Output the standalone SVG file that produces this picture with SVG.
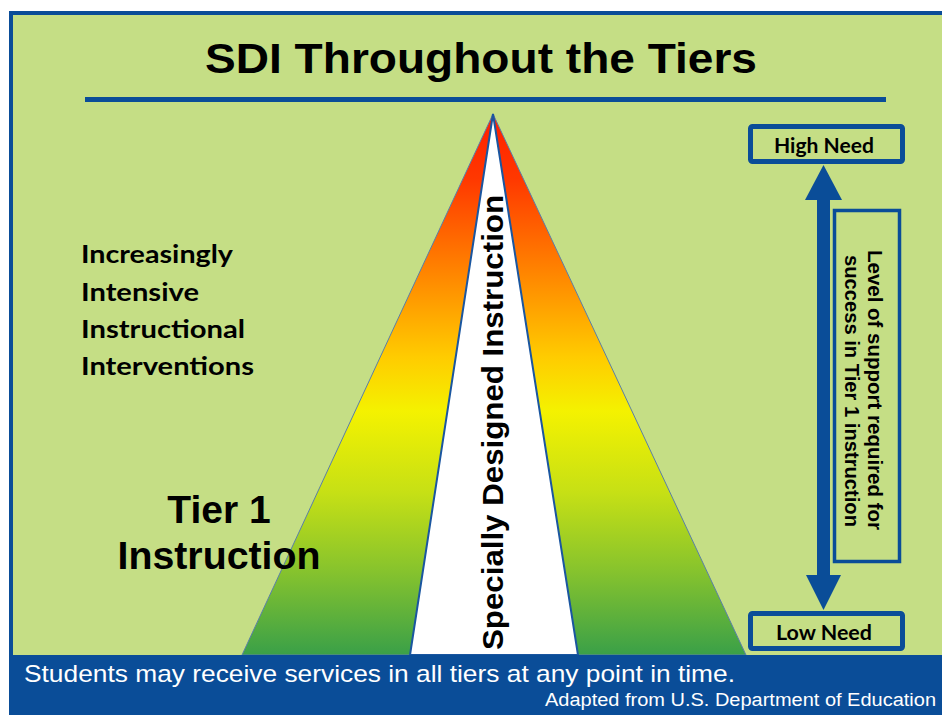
<svg xmlns="http://www.w3.org/2000/svg" width="942" height="715" viewBox="0 0 942 715">
  <defs>
    <linearGradient id="pyr" gradientUnits="userSpaceOnUse" x1="0" y1="114" x2="0" y2="655">
      <stop offset="0" stop-color="#ff1e00"/>
      <stop offset="0.12" stop-color="#ff3800"/>
      <stop offset="0.3" stop-color="#ff8800"/>
      <stop offset="0.45" stop-color="#ffcc00"/>
      <stop offset="0.55" stop-color="#f4f200"/>
      <stop offset="0.7" stop-color="#c6e015"/>
      <stop offset="0.85" stop-color="#84c22e"/>
      <stop offset="1" stop-color="#3aa048"/>
    </linearGradient>
    <style>
      .blue { fill: #0a4d98; }
      .box { fill: none; stroke: #0a4d98; }
      .cal { font-family: Lato, "Open Sans", "Liberation Sans", sans-serif; font-weight: bold; fill: #000; }
      .ari { font-family: "Liberation Sans", Arial, sans-serif; fill: #000; }
      .b { font-weight: bold; }
      .w { fill: #fff; }
    </style>
  </defs>

  <rect x="0" y="0" width="942" height="715" fill="#ffffff"/>
  <g id="panel">
    <rect x="11" y="13" width="940" height="660" fill="#c5de85" stroke="#0a4d98" stroke-width="4"/>
  </g>

  <g id="title">
    <text class="ari b" x="481" y="73" font-size="42" text-anchor="middle" textLength="552" lengthAdjust="spacingAndGlyphs">SDI Throughout the Tiers</text>
    <rect x="85" y="97" width="801" height="5" class="blue"/>
  </g>

  <g id="pyramid">
    <polygon points="493,114 242,655 746,655" fill="url(#pyr)" stroke="#5a7fa8" stroke-width="1"/>
    <polygon points="493,114 410,655 578,655" fill="#ffffff" stroke="#1a56a0" stroke-width="2"/>
    <text class="ari b" transform="translate(503,650) rotate(-90)" x="0" y="0" font-size="30" textLength="455" lengthAdjust="spacingAndGlyphs">Specially Designed Instruction</text>
  </g>

  <g id="interventions-label">
    <text class="cal" x="81" y="263" font-size="25" textLength="152" lengthAdjust="spacingAndGlyphs">Increasingly</text>
    <text class="cal" x="81" y="301" font-size="25" textLength="118" lengthAdjust="spacingAndGlyphs">Intensive</text>
    <text class="cal" x="81" y="338" font-size="25" textLength="164" lengthAdjust="spacingAndGlyphs">Instructional</text>
    <text class="cal" x="81" y="375" font-size="25" textLength="173" lengthAdjust="spacingAndGlyphs">Interventions</text>
  </g>

  <g id="tier1-label">
    <text class="ari b" x="219" y="523" font-size="39" text-anchor="middle">Tier 1</text>
    <text class="ari b" x="219" y="569" font-size="39" text-anchor="middle" textLength="203" lengthAdjust="spacingAndGlyphs">Instruction</text>
  </g>

  <g id="connectors">
    <rect x="817" y="197" width="13" height="381" class="blue"/>
    <polygon points="823.5,165 805,200 842,200" class="blue"/>
    <polygon points="823.5,610 806,575 841,575" class="blue"/>
  </g>

  <g id="high-need">
    <rect x="750.5" y="126.5" width="152" height="35" rx="2" class="box" stroke-width="5"/>
    <text class="cal" x="824" y="153" font-size="20" text-anchor="middle" textLength="100" lengthAdjust="spacingAndGlyphs">High Need</text>
  </g>

  <g id="low-need">
    <rect x="750.5" y="613.5" width="152" height="35" rx="2" class="box" stroke-width="5"/>
    <text class="cal" x="824" y="640" font-size="20" text-anchor="middle" textLength="96" lengthAdjust="spacingAndGlyphs">Low Need</text>
  </g>

  <g id="support-label">
    <rect x="834.5" y="210.5" width="65" height="351" class="box" stroke-width="3.5"/>
    <text class="ari b" transform="translate(868,390) rotate(90)" x="0" y="0" font-size="20" text-anchor="middle" textLength="280" lengthAdjust="spacingAndGlyphs">Level of support required for</text>
    <text class="ari b" transform="translate(845,391) rotate(90)" x="0" y="0" font-size="20" text-anchor="middle" textLength="272" lengthAdjust="spacingAndGlyphs">success in Tier 1 instruction</text>
  </g>

  <g id="footer">
    <rect x="9" y="655" width="933" height="60" class="blue"/>
    <text class="ari w" x="24" y="682" font-size="24" textLength="711" lengthAdjust="spacingAndGlyphs">Students may receive services in all tiers at any point in time.</text>
    <text class="ari w" x="936" y="706" font-size="18" text-anchor="end" textLength="391" lengthAdjust="spacingAndGlyphs">Adapted from U.S. Department of Education</text>
  </g>
</svg>
